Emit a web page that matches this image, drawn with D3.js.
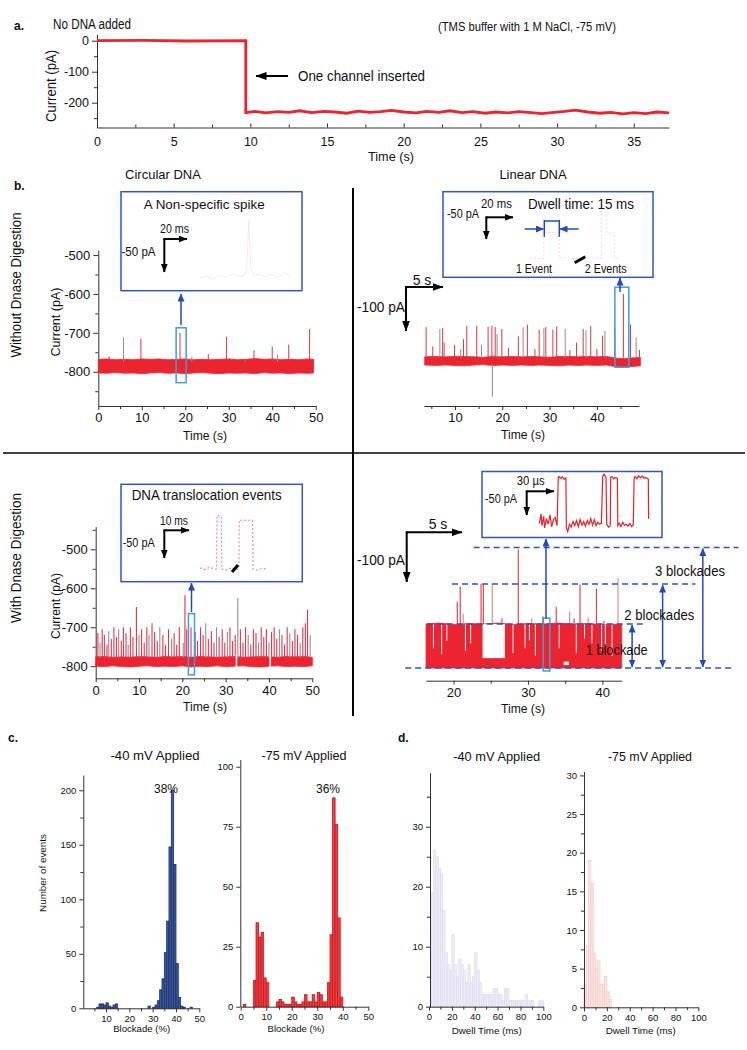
<!DOCTYPE html>
<html><head><meta charset="utf-8">
<script src="https://cdn.jsdelivr.net/npm/d3@7"></script>
<style>body{margin:0;background:#fff}</style>
</head><body><script>
// ---------------- DATA ----------------
// Panel a: single channel insertion trace
const aTime = [0,3,6,9.7,9.7,10.3,11,11.8,12.5,13.2,14,14.8,15.5,16.3,17,17.8,18.5,19.2,20,20.8,21.5,22.3,23,23.8,24.5,25.3,26,26.8,27.5,28.3,29,29.8,30.5,31.2,32,32.8,33.5,34.3,35,35.8,36.5,37.3];
const aCurrent = [0,1,-1,0,-232,-228,-233,-229,-231,-226,-232,-228,-230,-234,-227,-231,-229,-225,-230,-233,-228,-231,-226,-232,-229,-234,-230,-233,-229,-232,-235,-231,-228,-224,-230,-234,-231,-236,-232,-235,-230,-233];
const aXTicks = [0,5,10,15,20,25,30,35];
const aYTicks = [0,-100,-200];

// Panel b, circular DNA without DNase
const tlBandT = [0,2,4,6,8,10,12,14,16,18,20,22,24,26,28,30,32,34,36,38,40,42,44,46,48,49.5];
const tlBandTop = [-768,-767,-769,-768,-769,-767,-768,-767,-769,-768,-767,-769,-768,-769,-768,-767,-769,-768,-766,-768,-767,-769,-768,-769,-767,-768];
const tlBandBottom = [-803,-804,-802,-804,-803,-805,-803,-802,-804,-803,-805,-803,-802,-804,-805,-803,-804,-803,-805,-802,-804,-803,-805,-803,-804,-803];
const tlSpikeT = [2.5,5.8,9.8,18.8,21.5,25.3,29.5,33.8,35.8,40,41.2,43.8,48.6];
const tlSpikePeak = [-760,-712,-715,-700,-762,-755,-710,-770,-745,-735,-755,-730,-690];
const tlYTicks = [-500,-600,-700,-800];
const tlXTicks = [0,10,20,30,40,50];

// Panel b, linear DNA without DNase
const trBandT = [3.6,6,8,10,12,14,16,18,20,22,24,26,28,30,32,34,36,38,40,42,44,46,48,49.2];
const trBandTop = [-778,-777,-778,-777,-777,-778,-779,-777,-778,-777,-778,-777,-778,-779,-777,-777,-778,-777,-778,-777,-781,-782,-780,-779];
const trBandBottom = [-797,-798,-797,-798,-799,-797,-796,-798,-797,-798,-797,-798,-797,-798,-799,-797,-798,-797,-798,-797,-801,-802,-800,-799];
const trSpikeT = [3.9,5.3,6.8,7.4,7.7,9.9,11.2,11.8,12.5,14.6,15.6,17.0,17.8,18.5,18.9,19.9,21.3,23.4,24.4,25.3,26.9,27.8,28.8,29.2,30.7,31.5,33.3,34.3,35.7,37.1,37.7,38.7,40.0,41.2,41.7,43.8,45.6,47.1,48.3,49.0];
const trSpikePeak = [-709,-754,-713,-711,-745,-750,-760,-737,-706,-706,-750,-708,-706,-709,-725,-713,-757,-730,-709,-703,-760,-715,-711,-709,-715,-707,-713,-762,-745,-713,-716,-706,-760,-729,-718,-710,-632,-703,-733,-762];
const trDownT = [17.9];
const trDownPeak = [-871];
const trXTicks = [10,20,30,40];

// Panel b, circular DNA with DNase
const blBandT = [0,2,4,6,8,10,12,14,16,18,20,22,24,26,28,30,32,34,36,38,40,42,44,46,48,50];
const blBandTop = [-776,-775,-777,-776,-777,-775,-776,-777,-775,-776,-775,-777,-775,-776,-777,-776,-775,-777,-776,-775,-776,-777,-775,-776,-775,-777];
const blBandBottom = [-800,-801,-799,-801,-802,-800,-799,-801,-800,-801,-799,-802,-800,-801,-799,-801,-800,-799,-801,-802,-800,-799,-801,-800,-801,-799];
const blGapT = [32.5,40.3];
const blSpikeT = [0.5,1.0,1.5,2.0,2.6,3.0,3.6,4.2,4.8,5.3,5.9,6.4,7.0,7.5,8.0,8.6,9.4,10.0,10.6,11.2,11.8,12.3,13.0,13.6,14.2,14.8,15.5,16.1,16.8,17.5,18.1,18.7,19.3,20.2,20.6,21.0,22.0,23.0,23.5,24.2,24.8,25.4,26.0,26.7,27.3,27.9,28.5,29.2,29.8,30.4,31.0,31.6,32.2,32.8,33.4,34.0,34.6,35.2,35.8,36.4,37.0,37.6,38.2,38.8,39.4,40.0,40.6,41.2,41.8,42.4,43.0,43.6,44.2,44.8,45.4,46.0,46.6,47.2,47.8,48.4,48.9,49.5];
const blSpikePeak = [-715,-740,-705,-720,-745,-710,-730,-700,-725,
  -705,-735,-700,-715,-745,-700,-725,-648,-720,-705,
  -740,-700,-720,-690,-712,-735,-700,-720,-745,-705,
  -730,-715,-745,-700,-740,-618,-705,-700,-712,-735,
  -700,-720,-690,-730,-710,-740,-700,-725,-705,-740,
  -712,-700,-735,-720,-625,-705,-740,-700,-720,-745,
  -705,-715,-740,-700,-725,-705,-740,-712,-700,-730,
  -705,-720,-745,-700,-715,-735,-705,-720,-740,-700,
  -690,-655,-720];
const blYTicks = [-500,-600,-700,-800];

// Panel b, linear DNA with DNase
const brBandT = [16.3,18,20,22,24,26,28,30,32,34,36,38,40,42.6];
const brBandTop = [-711,-709,-712,-710,-711,-709,-712,-710,-711,-709,-711,-710,-712,-711];
const brBandBottom = [-800,-800,-800,-800,-800,-800,-800,-800,-800,-800,-800,-800,-800,-800];
const brGapStart = [23.9,34.8];
const brGapEnd = [26.9,35.5];
const brGapTop = [-711,-787];
const brGapBottom = [-780,-794];
const brDipT = [17.3,18.4,19.1,21.6,22.3,28.0,29.6,30.2,31.0,34.2,36.5,37.6,38.6,39.9,40.4,41.3];
const brDipValue = [-760,-772,-745,-765,-750,-770,-760,-745,-775,-760,-770,-740,-750,-765,-755,-775];
const brSpikeT = [20.5,20.9,21.3,23.7,24.0,25.2,26.5,28.7,30.5,32.0,33.8,35.6,36.2,37.0,38.1,39.2,40.2,42.1];
const brSpikePeak = [-666,-635,-690,-630,-630,-630,-700,-560,-700,-695,-676,-685,-700,-631,-698,-639,-705,-618];
const brLevels = [-800,-711,-630,-556];
const brLevelStart = [13.5,16.4,19.8,22.7];
const brLevelEnd = [57.4,45.5,52.5,58.3];
const brXTicks = [20,30,40];

// Inset traces
const tlInsetT = [0,6,12,18,24,30,36,40,43,45,47,50,55,60,66,72,78,83];
const tlInsetI = [0,3,-2,4,1,6,2,3,10,89,12,4,6,2,5,1,8,3];
const trInsetT = [0,4,8,10.4,10.6,16,21.9,22.1,28,34,40,46,53.9,54.1,58,58.2,63.9,64.1,68];
const trInsetI = [0,2,-1,0,60,62,60,0,2,-1,1,0,0,115,115,60,60,0,1];
const blInsetT = [0,2,4,6,6.9,7.1,8.9,9.1,11,13,15,16.2,16.4,21.9,22.1,24,26,27.8];
const blInsetI = [2,-1,3,0,0,97,95,0,-2,2,-1,0,88,88,0,-2,1,0];
const brInsetT = [0,2,3,5,6,8,10,12,14,16,
  18,20,21.4,22,24,26,28,30,30.5,32,
  34,36,38,40,42,44,46,48,50,52,
  54,56,58,60,62,64,66,68,70,71.5,
  73,75.2,76,78,80,80.5,82,84,86,88,
  88.5,90,92,94,96,98,100,102,104,106,
  106.8,108,110,112,114,116,118,120,122.9,123.2];
const brInsetI = [10,30,5,25,0,20,8,28,3,18,
  22,5,108,110,106,109,104,107,0,-8,
  8,2,14,5,16,3,18,6,14,4,
  16,8,20,6,18,5,12,8,10,110,
  115,108,8,2,5,108,110,105,108,106,
  5,10,3,12,6,8,4,10,3,8,
  104,110,105,112,107,111,106,108,104,20];

// Panel c: blockade histograms
const cLeftBlockade = [6,7,8,9,10,11,12,13,14,28,30,31,32,33,34,35,36,37,38,39,40,41,42,43,46];
const cLeftCount = [1,4,4,3,5,2,1,3,4,2,1,3,7,17,27,51,80,148,200,132,41,10,2,1,1];
const cRightBlockade = [1,2,3,4,5,6,7,8,9,10,11,12,13,14,15,16,17,18,19,20,21,22,23,24,25,26,27,28,29,30,31,32,33,34,35,36,37,38,39];
const cRightCount = [1,0,0,0,11,35,29,31,12,10,0,0,0,2,3,2,1,1,1,4,2,1,1,2,5,2,2,5,2,6,5,2,2,10,30,87,76,37,4];
const cLeftYTicks = [0,50,100,150,200];
const cRightYTicks = [0,25,50,75,100];

// Panel d: dwell time histograms
const dLeftDwell = [2,4,6,8,10,12,14,16,18,20,22,24,26,28,30,32,34,36,38,40,42,44,46,48,50,52,54,56,58,60,62,64,66,68,70,72,74,76,78,80,82,84,86,88,90,92,94,96,98];
const dLeftCount = [19,26,25,23,22,16,9,7,6,12,7,5,8,7,6,4,7,4,5,9,6,4,2,2,2,2,2,3,3,2,2,1,3,3,1,1,1,1,1,1,1,2,1,1,1,0,0,1,1];
const dRightDwell = [0,2,4,6,8,10,12,14,16,18,20,22];
const dRightCount = [3,8,19,16,7,5,6,3,3,4,2,1];
const dLeftYTicks = [0,10,20,30];
const dRightYTicks = [0,5,10,15,20,25,30];
const dXTicks = [0,20,40,60,80,100];

// ---------------- DRAWING ----------------
const W=747,H=1050;
const FONT="'Liberation Sans', Arial, Helvetica, sans-serif";
const RED="#ec2430", RED2="#e3353f", GREY="#9a8a8e";
const BOX="#2f55c9", ZBOX="#3c9de0", ABLUE="#2448c0";
const svg=d3.select("body").append("svg").attr("width",W).attr("height",H);
svg.append("rect").attr("width",W).attr("height",H).attr("fill","#fff");
const defs=svg.append("defs");
function marker(id,color,w,h){
  defs.append("marker").attr("id",id).attr("viewBox",`0 0 ${w} ${h}`)
   .attr("refX",w-0.5).attr("refY",h/2).attr("markerWidth",w).attr("markerHeight",h)
   .attr("markerUnits","userSpaceOnUse").attr("orient","auto-start-reverse")
   .append("path").attr("d",`M0,0L${w},${h/2}L0,${h}Z`).attr("fill",color);
}
marker("ahK","#000",11,8); marker("ahKs","#000",9,7); marker("ahB",ABLUE,8,7);
function arrow(x1,y1,x2,y2,o={}){
  const l=svg.append("line").attr("x1",x1).attr("y1",y1).attr("x2",x2).attr("y2",y2)
   .attr("stroke",o.color||"#000").attr("stroke-width",o.w||2)
   .attr("marker-end",`url(#${o.m||"ahK"})`);
  if(o.both) l.attr("marker-start",`url(#${o.m||"ahK"})`);
  return l;
}
function line(x1,y1,x2,y2,color,w,dash){
  const l=svg.append("line").attr("x1",x1).attr("y1",y1).attr("x2",x2).attr("y2",y2)
    .attr("stroke",color).attr("stroke-width",w);
  if(dash) l.attr("stroke-dasharray",dash);
  return l;
}
function txt(x,y,s,o={}){
  const t=svg.append("text").attr("x",x).attr("y",y).text(s)
   .attr("font-family",FONT).attr("font-size",o.size||13)
   .attr("text-anchor",o.anchor||"start").attr("fill",o.fill||"#111");
  if(o.bold) t.attr("font-weight","bold");
  if(o.len) t.attr("textLength",o.len).attr("lengthAdjust","spacingAndGlyphs");
  if(o.rot) t.attr("transform",`rotate(-90,${x},${y})`);
  return t;
}
function styleAxis(g,fs){
  g.selectAll("text").attr("font-family",FONT).attr("font-size",fs).attr("fill","#111");
  g.selectAll("path.domain").attr("stroke","#333").attr("stroke-width",1);
  g.selectAll(".tick line").attr("stroke","#333");
}
const fmt=d=>String(d);
function yAxis(x,scale,major,minor,fs,size){
  const g=svg.append("g").attr("transform",`translate(${x},0)`);
  g.call(d3.axisLeft(scale).tickValues(major).tickSize(size||5).tickSizeOuter(0).tickPadding(3).tickFormat(fmt));
  styleAxis(g,fs);
  if(minor){
    const m=svg.append("g").attr("transform",`translate(${x},0)`);
    m.call(d3.axisLeft(scale).tickValues(minor).tickSize(3).tickSizeOuter(0).tickFormat(""));
    m.select(".domain").remove(); styleAxis(m,fs);
  }
}
function xAxis(y,scale,major,minor,fs,size,pad){
  const g=svg.append("g").attr("transform",`translate(0,${y})`);
  g.call(d3.axisBottom(scale).tickValues(major).tickSize(size).tickSizeOuter(0).tickPadding(pad).tickFormat(fmt));
  styleAxis(g,fs);
  if(minor){
    const m=svg.append("g").attr("transform",`translate(0,${y})`);
    m.call(d3.axisBottom(scale).tickValues(minor).tickSize(size>0?3:-3).tickSizeOuter(0).tickFormat(""));
    m.select(".domain").remove(); styleAxis(m,fs);
  }
}
function band(xs,ys,T,top,bot,color){
  const d=T.map((t,i)=>({t,a:top[i],b:bot[i]}));
  svg.append("path").datum(d).attr("fill",color).attr("stroke",color).attr("stroke-width",0.8)
   .attr("d",d3.area().x(p=>xs(p.t)).y0(p=>ys(p.b)).y1(p=>ys(p.a)));
}
function spikes(xs,ys,T,P,base,colorFn,w){
  svg.append("g").selectAll("line").data(T).join("line")
   .attr("x1",t=>xs(t)).attr("x2",t=>xs(t)).attr("y1",ys(base)).attr("y2",(t,i)=>ys(P[i]))
   .attr("stroke",(t,i)=>colorFn(i)).attr("stroke-width",w||1);
}
function trace(xs,ys,T,V,color,w,dash,op){
  const p=svg.append("path").datum(T.map((t,i)=>[t,V[i]])).attr("fill","none")
   .attr("stroke",color).attr("stroke-width",w).attr("opacity",op==null?1:op)
   .attr("d",d3.line().x(d=>xs(d[0])).y(d=>ys(d[1])));
  if(dash) p.attr("stroke-dasharray",dash);
}
function rect(x0,y0,x1,y1,color,w){
  svg.append("rect").attr("x",x0).attr("y",y0).attr("width",x1-x0).attr("height",y1-y0)
   .attr("fill","none").attr("stroke",color).attr("stroke-width",w);
}

// ===== Panel a =====
const xA=d3.scaleLinear().domain([0,37.3]).range([97,669]);
const yA=d3.scaleLinear().domain([-280,20]).range([127.5,34.5]);
yAxis(97,yA,aYTicks,[-50,-150,-250],12.5);
xAxis(127.5,xA,aXTicks,[2.5,7.5,12.5,17.5,22.5,27.5,32.5],12.5,-4,10);
line(xA(9.7),yA(0),xA(9.7),yA(-232),"#999",1);
trace(xA,yA,aTime,aCurrent,RED,2.8);
txt(14,30,"a.",{size:12,bold:true});
txt(53,29,"No DNA added",{size:14,len:78});
txt(438,31,"(TMS buffer with 1 M NaCl, -75 mV)",{size:12,len:178});
arrow(288,76,256,76,{w:2,m:"ahK"});
txt(298,81,"One channel inserted",{size:14,len:127});
txt(56,86,"Current (pA)",{size:14,anchor:"middle",rot:true,len:72});
txt(391,161,"Time (s)",{size:13,anchor:"middle",len:46});

// ===== Panel b frame =====
txt(14,190,"b.",{size:12,bold:true});
txt(163,179,"Circular DNA",{size:13,anchor:"middle"});
txt(533,179,"Linear DNA",{size:13,anchor:"middle"});
line(353,188,353,716,"#000",2);
line(3,453,745,453,"#000",1.5);
txt(21,285,"Without Dnase Digestion",{size:14,anchor:"middle",rot:true,len:145});
txt(21,558,"With Dnase Digestion",{size:14,anchor:"middle",rot:true,len:130});

// ===== b top-left =====
const xTL=d3.scaleLinear().domain([0,50]).range([98.3,315.7]);
const yTL=d3.scaleLinear().domain([-888,-487]).range([406,250]);
yAxis(98.3,yTL,tlYTicks,[-550,-650,-750,-850],13);
xAxis(406,xTL,tlXTicks,[5,15,25,35,45],13,4,3);
band(xTL,yTL,tlBandT,tlBandTop,tlBandBottom,RED);
spikes(xTL,yTL,tlSpikeT,tlSpikePeak,-775,i=>i%3===1?GREY:RED2,1);
txt(60,322,"Current (pA)",{size:13,anchor:"middle",rot:true,len:69});
txt(205,440,"Time (s)",{size:13,anchor:"middle",len:44});
rect(xTL(17.9),yTL(-687),xTL(20.2),yTL(-828),ZBOX,1.5);
arrow(181,325,181,294,{color:ABLUE,w:1.5,m:"ahB"});
rect(121,191.7,302,290.7,BOX,1.5);
txt(143.7,209,"A Non-specific spike",{size:13,len:121});
txt(160,233.3,"20 ms",{size:12,len:29});
txt(121.5,256,"-50 pA",{size:12,len:34});
arrow(164.3,239,187,239,{w:2,m:"ahKs"});
arrow(164.3,239,164.3,272,{w:2,m:"ahKs"});
line(163.3,239,165.3,239,"#000",2);
{
  const xi=d3.scaleLinear().domain([0,83]).range([200,290]);
  const yi=d3.scaleLinear().domain([0,89]).range([278,220]);
  trace(xi,yi,tlInsetT,tlInsetI,"#f1d3da",1,null,0.5);
}

// ===== b top-right =====
const xTR=d3.scaleLinear().domain([3.45,48.9]).range([424,639]);
const yTR=d3.scaleLinear().domain([-880,-620]).range([362+90*0.43,362-170*0.43]);
xAxis(406,xTR,trXTicks,[5,15,25,35,45],13,4,3);
band(xTR,yTR,trBandT,trBandTop,trBandBottom,RED);
spikes(xTR,yTR,trSpikeT,trSpikePeak,-780,i=>i%4===2?GREY:RED2,1);
spikes(xTR,yTR,trDownT,trDownPeak,-795,()=>"#8c8c9a",1);
txt(523,439,"Time (s)",{size:13,anchor:"middle",len:44});
rect(xTR(43.8),yTR(-616),xTR(46.75),yTR(-802),ZBOX,1.5);
arrow(620,292,620,278,{color:ABLUE,w:1.5,m:"ahB"});
rect(443,191.7,653,277.3,BOX,1.5);
txt(481,208.3,"20 ms",{size:12,len:31});
txt(447,218.3,"-50 pA",{size:12,len:32});
arrow(486.3,217.3,513,217.3,{w:2,m:"ahKs"});
arrow(486.3,217.3,486.3,239,{w:2,m:"ahKs"});
line(485.3,217.3,487.3,217.3,"#000",2);
txt(528,209,"Dwell time: 15 ms",{size:14,len:106});
arrow(524.7,229,543.5,229,{color:ABLUE,w:1.5,m:"ahB"});
arrow(578.7,229,560,229,{color:ABLUE,w:1.5,m:"ahB"});
line(544.3,220,544.3,237,ABLUE,1.5); line(559.3,220,559.3,237,ABLUE,1.5); line(544.3,221,559.3,221,ABLUE,1.5);
{
  const xi=d3.scaleLinear().domain([0,68]).range([530,620]);
  const yi=d3.scaleLinear().domain([0,115]).range([258.3,210]);
  trace(xi,yi,trInsetT,trInsetI,"#eaa0b0",1,"2,2",0.4);
}
line(574.7,262.7,585.3,256.7,"#000",3);
txt(516,273.3,"1 Event",{size:13,len:36});
txt(584.7,273.3,"2 Events",{size:13,len:42});
arrow(406,287,443,287,{w:2,m:"ahK"});
arrow(406,287,406,331,{w:2,m:"ahK"});
line(405,287,407,287,"#000",2);
txt(422,285,"5 s",{size:14,anchor:"middle"});
txt(357,312,"-100 pA",{size:14,len:48});

// ===== b bottom-left =====
const xBL=d3.scaleLinear().domain([0,50]).range([95.7,312.3]);
const yBL=d3.scaleLinear().domain([-831,-442]).range([678.3,526.7]);
yAxis(95.7,yBL,blYTicks,[-450,-550,-650,-750],13);
xAxis(678.3,xBL,tlXTicks,[5,15,25,35,45],13,4,3);
band(xBL,yBL,blBandT,blBandTop,blBandBottom,RED);
spikes(xBL,yBL,blSpikeT,blSpikePeak,-778,i=>i%4===1?GREY:(i%4===3?"#e0306a":RED2),1.1);
svg.append("g").selectAll("line").data(blGapT).join("line")
  .attr("x1",t=>xBL(t)).attr("x2",t=>xBL(t)).attr("y1",yBL(-770)).attr("y2",yBL(-806))
  .attr("stroke","#fff").attr("stroke-width",1.6);
txt(60,606,"Current (pA)",{size:13,anchor:"middle",rot:true,len:66});
txt(205,711,"Time (s)",{size:13,anchor:"middle",len:44});
rect(xBL(21.4),yBL(-665),xBL(22.8),yBL(-822),ZBOX,1.5);
arrow(191.5,612,191.5,583,{color:ABLUE,w:1.5,m:"ahB"});
rect(121,484.3,302.3,581.7,BOX,1.5);
txt(131.7,500.3,"DNA translocation events",{size:14,len:150});
txt(160,524.7,"10 ms",{size:12,len:28});
txt(122.7,547,"-50 pA",{size:12,len:32});
arrow(164.3,530.3,189,530.3,{w:2,m:"ahKs"});
arrow(164.3,530.3,164.3,558,{w:2,m:"ahKs"});
line(163.3,530.3,165.3,530.3,"#000",2);
{
  const xi=d3.scaleLinear().domain([0,27.8]).range([200,266.7]);
  const yi=d3.scaleLinear().domain([0,97]).range([569,515.3]);
  trace(xi,yi,blInsetT,blInsetI,"#e2508e",1.1,"2,2",0.7);
}
line(232,572,238,565,"#000",3);

// ===== b bottom-right =====
const xBR=d3.scaleLinear().domain([16.3,42.6]).range([426,621.7]);
const yBR=d3.scaleLinear().domain([-800,-540]).range([668,668-260*0.494]);
xAxis(680.7,xBR,brXTicks,[25,35],13,4,3);
band(xBR,yBR,brBandT,brBandTop,brBandBottom,RED);
brGapStart.forEach((s,i)=>{
  svg.append("rect").attr("x",xBR(s)).attr("y",yBR(brGapTop[i]))
   .attr("width",xBR(brGapEnd[i])-xBR(s)).attr("height",yBR(brGapBottom[i])-yBR(brGapTop[i])).attr("fill","#fff");
});
spikes(xBR,yBR,brDipT,brDipValue,-712,()=>"#fff",1);
spikes(xBR,yBR,brSpikeT,brSpikePeak,-712,i=>i%3===2?"#c98a9a":RED2,1.1);
txt(523,713,"Time (s)",{size:13,anchor:"middle",len:44});
brLevels.forEach((v,i)=>{
  line(xBR(brLevelStart[i]),yBR(v),xBR(brLevelEnd[i]),yBR(v),"#2a54d0",1.5,"6,4");
});
[[44.0,1],[48.1,2],[53.5,3]].forEach(([t,k])=>{
  arrow(xBR(t),yBR(-800)-1,xBR(t),yBR(brLevels[k])+1,{color:ABLUE,w:1.5,m:"ahB",both:true});
});
txt(616.7,655,"1 blockade",{size:14,anchor:"middle",len:62});
txt(659.3,620,"2 blockades",{size:14,anchor:"middle",len:70});
txt(690,576,"3 blockades",{size:14,anchor:"middle",len:70});
rect(xBR(32.05),yBR(-699),xBR(32.95),yBR(-806),ZBOX,1.5);
arrow(546,619,546,539,{color:ABLUE,w:1.5,m:"ahB"});
rect(482,471.5,662,537.5,BOX,1.5);
txt(516.7,484.7,"30 µs",{size:12,len:28});
txt(485,503,"-50 pA",{size:12,len:32});
arrow(526.7,491.3,554,491.3,{w:2,m:"ahKs"});
arrow(526.7,491.3,526.7,515,{w:2,m:"ahKs"});
line(525.7,491.3,527.7,491.3,"#000",2);
{
  const xi=d3.scaleLinear().domain([0,123.2]).range([539.3,648.6]);
  const yi=d3.scaleLinear().domain([0,111]).range([528,476]);
  trace(xi,yi,brInsetT,brInsetI,"#e8202a",1.2);
}
arrow(406.7,532.3,462,532.3,{w:2,m:"ahK"});
arrow(406.7,532.3,406.7,582,{w:2,m:"ahK"});
line(405.7,532.3,407.7,532.3,"#000",2);
txt(438,529,"5 s",{size:14,anchor:"middle"});
txt(357,565,"-100 pA",{size:14,len:48});

// ===== Panel c =====
txt(8,742,"c.",{size:12,bold:true});
txt(155,760,"-40 mV Applied",{size:13,anchor:"middle",len:89});
txt(304,760,"-75 mV Applied",{size:13,anchor:"middle",len:85});
const xCL=d3.scaleLinear().domain([0,50]).range([82.7,199.3]);
const yCL=d3.scaleLinear().domain([0,214]).range([1008.3,1008.3-214*1.09]);
svg.append("g").selectAll("rect").data(cLeftBlockade).join("rect")
  .attr("x",b=>xCL(b)).attr("width",b=>xCL(b+1)-xCL(b))
  .attr("y",(b,i)=>yCL(cLeftCount[i])).attr("height",(b,i)=>yCL(0)-yCL(cLeftCount[i]))
  .attr("fill","#3a5a9c").attr("stroke","#1c2f6a").attr("stroke-width",0.8);
yAxis(83.3,yCL,cLeftYTicks,[25,75,125,175],9.5,4);
xAxis(1008.3,xCL,[10,20,30,40,50],[5,15,25,35,45],9.5,4,3);
txt(166,793,"38%",{size:12,anchor:"middle"});
txt(46,873,"Number of events",{size:9.5,anchor:"middle",rot:true,len:78});
txt(141.7,1032,"Blockade (%)",{size:9.5,anchor:"middle",len:57});

const xCR=d3.scaleLinear().domain([0,50]).range([240.7,368.3]);
const yCR=d3.scaleLinear().domain([0,103]).range([1006.7,1006.7-103*2.4]);
svg.append("g").selectAll("rect").data(cRightBlockade).join("rect")
  .attr("x",b=>xCR(b)).attr("width",b=>xCR(b+1)-xCR(b))
  .attr("y",(b,i)=>yCR(cRightCount[i])).attr("height",(b,i)=>yCR(0)-yCR(cRightCount[i]))
  .attr("fill","#ee3e44").attr("stroke","#c8141a").attr("stroke-width",0.8);
yAxis(240.3,yCR,cRightYTicks,null,9.5,4);
xAxis(1006.7,xCR,[0,10,20,30,40,50],[5,15,25,35,45],9.5,4,3);
txt(328,793,"36%",{size:12,anchor:"middle"});
txt(296,1032,"Blockade (%)",{size:9.5,anchor:"middle",len:57});

// ===== Panel d =====
txt(398,742,"d.",{size:12,bold:true});
txt(496.7,761,"-40 mV Applied",{size:13,anchor:"middle",len:87});
txt(650,761,"-75 mV Applied",{size:13,anchor:"middle",len:84});
const xDL=d3.scaleLinear().domain([0,100]).range([429,543.3]);
const yDL=d3.scaleLinear().domain([0,39]).range([1006.7,1006.7-39*6]);
svg.append("g").selectAll("rect").data(dLeftDwell).join("rect")
  .attr("x",b=>xDL(b)).attr("width",b=>xDL(b+2)-xDL(b))
  .attr("y",(b,i)=>yDL(dLeftCount[i])).attr("height",(b,i)=>yDL(0)-yDL(dLeftCount[i]))
  .attr("fill","#f0eef9").attr("stroke","#dcd7f1").attr("stroke-width",0.7);
yAxis(430,yDL,dLeftYTicks,[5,15,25,35],9.5,4);
xAxis(1006.7,xDL,dXTicks,[10,30,50,70,90],9.5,4,3);
txt(486.7,1034,"Dwell Time (ms)",{size:9.5,anchor:"middle",len:70});

const xDR=d3.scaleLinear().domain([0,100]).range([584,698.3]);
const yDR=d3.scaleLinear().domain([0,30.5]).range([1007.3,1007.3-30.5*7.73]);
svg.append("g").selectAll("rect").data(dRightDwell).join("rect")
  .attr("x",b=>xDR(b)).attr("width",b=>xDR(b+2)-xDR(b))
  .attr("y",(b,i)=>yDR(dRightCount[i])).attr("height",(b,i)=>yDR(0)-yDR(dRightCount[i]))
  .attr("fill","#fde8e6").attr("stroke","#f5c6c4").attr("stroke-width",0.7);
yAxis(584,yDR,dRightYTicks,[2.5,7.5,12.5,17.5,22.5,27.5],9.5,4);
xAxis(1007.3,xDR,dXTicks,[10,30,50,70,90],9.5,4,3);
txt(640.7,1034,"Dwell Time (ms)",{size:9.5,anchor:"middle",len:70});
</script></body></html>
